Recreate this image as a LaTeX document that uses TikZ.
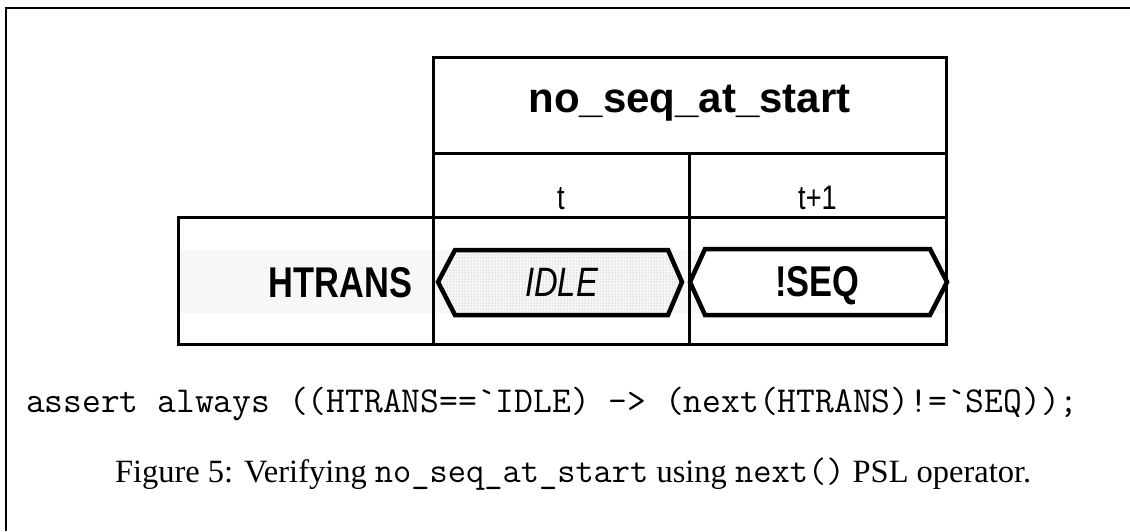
\documentclass[tikz,border=0pt]{standalone}
\usepackage{fontspec}
\setmainfont{Liberation Serif}
\newfontfamily\narrowsans[FakeStretch=0.8]{Liberation Sans}
\newfontfamily\arialfont{Liberation Sans}
\usetikzlibrary{patterns}
\definecolor{bandgray}{HTML}{F7F7F7}
\definecolor{dotgray}{HTML}{9A9A9A}
\tikzset{
  grid line/.style={line width=3pt, line cap=rect},
  frame line/.style={line width=2.5pt},
  hexline/.style={line width=4.5pt, line join=miter},
  txt/.style={inner sep=0pt, outer sep=0pt, anchor=base},
  headtxt/.style={txt, font=\arialfont\bfseries\fontsize{42}{48}\selectfont},
  timetxt/.style={txt, font=\narrowsans\fontsize{34}{40}\selectfont},
  sigtxt/.style={txt, font=\narrowsans\bfseries\fontsize{43}{50}\selectfont},
  valtxt/.style={txt, font=\narrowsans\fontsize{41}{48}\selectfont},
}
\newcommand{\captt}[1]{{\ttfamily\fontsize{35.4}{40}\selectfont #1}}
\begin{document}
\begin{tikzpicture}[x=1pt,y=-1pt]
\useasboundingbox (0,0) rectangle (1130,531);
\fill[white] (0,0) rectangle (1130,531);
% outer frame (top and left)
\draw[frame line] (6,531) -- (6,8) -- (1131,8);
% light band behind the signal row
\fill[bandgray] (178,250) rectangle (946,313);
% table lines
\draw[grid line] (433,57) rectangle (946,344);
\draw[grid line] (178,217) rectangle (946,344);
\draw[grid line] (433,153) -- (946,153);
\draw[grid line] (689,153) -- (689,344);
% IDLE value (stippled)
\path[pattern=dots, pattern color=dotgray]
  (438,282) -- (455,250) -- (668,250) -- (682,282) -- (668,315) -- (455,315) -- cycle;
\draw[hexline]
  (438,282) -- (455,250) -- (668,250) -- (682,282) -- (668,315) -- (455,315) -- cycle;
% !SEQ value
\fill[white] (690,282) -- (705,249) -- (930,249) -- (947,282) -- (930,315) -- (705,315) -- cycle;
\draw[hexline]
  (690,282) -- (705,249) -- (930,249) -- (947,282) -- (930,315) -- (705,315) -- cycle;
% texts
\node[headtxt] (title) at (689.5,112) {no\_seq\_at\_start};
\node[timetxt] (tA) at (561,209) {t};
\node[timetxt] (tB) at (817.5,209) {t+1};
\node[sigtxt, anchor=base east] (sig) at (412,297) {HTRANS};
\node[valtxt] (idle) at (561.5,296) {\itshape IDLE};
\node[sigtxt] (seq) at (817.5,296) {!SEQ};
\node[txt, anchor=base west, font=\ttfamily\fontsize{36.5}{42}\selectfont] (code) at (26,412)
  {assert always ((HTRANS==`IDLE) -> (next(HTRANS)!=`SEQ));};
\node[txt, anchor=base west, font=\fontsize{32.5}{38}\selectfont] (cap) at (115,482)
  {Figure 5: Verifying \captt{no\_seq\_at\_start} using \captt{next()} PSL operator.};
\end{tikzpicture}
\end{document}
